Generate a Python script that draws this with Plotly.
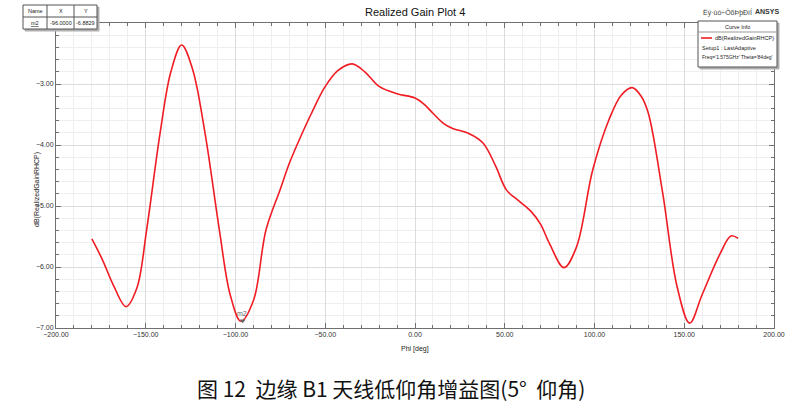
import plotly.graph_objects as go

# ---- data ----
phi = [-180, -174, -168, -161, -155, -149.5, -142, -136, -130, -124, -117, -109,
       -103, -97, -90, -83, -75, -70, -65, -58, -50, -43, -35, -28, -20, -10,
       0, 5, 10, 16, 21, 30, 38, 45, 51, 58, 65, 70, 75, 83, 90, 99, 108, 115,
       121, 126, 130, 138, 146, 153, 160, 170, 176, 180]
gain = [-5.54, -5.89, -6.30, -6.65, -6.35, -5.39, -3.80, -2.80, -2.36, -2.75, -3.80, -5.39,
        -6.45, -6.89, -6.55, -5.39, -4.72, -4.30, -3.95, -3.50, -3.04, -2.78, -2.67, -2.80, -3.04, -3.16,
        -3.23, -3.33, -3.48, -3.65, -3.73, -3.81, -3.97, -4.35, -4.74, -4.92, -5.10, -5.30, -5.62, -6.01, -5.67, -4.41, -3.59, -3.18,
        -3.06, -3.20, -3.48, -4.79, -6.32, -6.92, -6.45, -5.78, -5.49, -5.53]

x_ticks = [-200, -150, -100, -50, 0, 50, 100, 150, 200]
y_ticks = [-7, -6, -5, -4, -3]

marker_name = "m2"
marker_x = -96.0
marker_y = -6.8829

title = "Realized Gain Plot 4"
curve_name = "dB(RealizedGainRHCP)"
caption = "图&nbsp;12&nbsp;&nbsp;边缘&nbsp;B1&nbsp;天线低仰角增益图(5°&nbsp;&nbsp;仰角)"

W, H = 795, 413
L, R, T, B = 56, 774, 23, 328


def px(x):
    return (x - L) / (R - L)


def py(y):
    return (B - y) / (B - T)


FONT = "Liberation Sans, Arial, sans-serif"
NARROW = "Liberation Sans Narrow, Arial Narrow, Liberation Sans, sans-serif"

fig = go.Figure()
fig.add_trace(go.Scatter(
    x=phi, y=gain, mode="lines",
    line=dict(color="#f01c24", width=1.6, shape="spline", smoothing=1.0),
    name=curve_name, showlegend=False, hoverinfo="x+y", cliponaxis=True))

axis_common = dict(
    showline=True, linecolor="#707070", linewidth=1, mirror="allticks",
    ticks="inside", ticklen=5, tickcolor="#707070", tickwidth=1,
    gridcolor="#dcdcdc", gridwidth=1, zeroline=False, automargin=False,
    tickfont=dict(family=FONT, size=7, color="#333"),
)

fig.update_xaxes(
    range=[-200, 200], tickvals=x_ticks, tickformat=".2f",
    minor=dict(dtick=10, showgrid=True, gridcolor="#efefef", ticks="inside",
               ticklen=3, tickcolor="#707070"),
    **axis_common)
fig.update_yaxes(
    range=[-7, -2], tickvals=y_ticks, tickformat=".2f",
    minor=dict(dtick=0.2, showgrid=True, gridcolor="#efefef", ticks="inside",
               ticklen=3, tickcolor="#707070"),
    **axis_common)

ann = []
shapes = []


def text(x, y, s, size=7, color="#222", xanchor="center", family=FONT, **kw):
    ann.append(dict(x=px(x), y=py(y), xref="paper", yref="paper", text=s,
                    showarrow=False, xanchor=xanchor, yanchor="middle",
                    font=dict(family=family, size=size, color=color), **kw))


# Title and header texts
text(415, 12, title, size=11, color="#111")
text(754, 12, "Ëý·ùò÷ÒõÞþÐìÍ", size=7, color="#444", family=NARROW, xanchor="right")
text(781, 11, "<b>ANSYS</b>", size=7, color="#333", xanchor="right")

# axis titles
text(415, 349, "Phi [deg]", size=7, color="#222")
ann.append(dict(x=px(31), y=py(190), xref="paper", yref="paper",
                text="dB(RealizedGainRHCP)", showarrow=False, textangle=-90,
                font=dict(family=FONT, size=7, color="#222")))

# marker label
text(242, 313, marker_name, size=7, color="#666")
fig.add_trace(go.Scatter(x=[marker_x], y=[marker_y], mode="markers",
                         marker=dict(symbol="triangle-down", size=5, color="#666"),
                         showlegend=False, hoverinfo="skip"))

# Marker table
def rect(x0, y0, x1, y1, fill="white", line="#555", width=1):
    shapes.append(dict(type="rect", xref="paper", yref="paper",
                       x0=px(x0), x1=px(x1), y0=py(y1), y1=py(y0),
                       fillcolor=fill, line=dict(color=line, width=width)))


def hline(x0, x1, y, color="#555", width=1):
    shapes.append(dict(type="line", xref="paper", yref="paper",
                       x0=px(x0), x1=px(x1), y0=py(y), y1=py(y),
                       line=dict(color=color, width=width)))


def vline(x, y0, y1, color="#555", width=1):
    shapes.append(dict(type="line", xref="paper", yref="paper",
                       x0=px(x), x1=px(x), y0=py(y0), y1=py(y1),
                       line=dict(color=color, width=width)))


rect(25, 7, 99, 31, fill="#b0b0b0", line="#b0b0b0")
rect(23, 5, 97, 29, fill="white", line="#555")
hline(23, 97, 17)
vline(47, 5, 29)
vline(74, 5, 29)
text(35, 11, "Name", size=5.5, family=NARROW)
text(60.5, 11, "X", size=5.5, family=NARROW)
text(85.5, 11, "Y", size=5.5, family=NARROW)
text(35, 23, "<u>m2</u>", size=5.5, family=NARROW)
text(60.5, 23, f"{marker_x:.4f}", size=5.5, family=NARROW)
text(85.5, 23, f"{marker_y:.4f}", size=5.5, family=NARROW)

# Curve info box
rect(700, 23, 779, 69, fill="#b0b0b0", line="#b0b0b0")
rect(698, 21, 777, 67, fill="white", line="#555")
hline(698, 777, 32, color="#999")
text(737.5, 27, "Curve Info", size=5.5, family=NARROW)
hline(701, 712, 38, color="#f01c24", width=1.6)
text(776, 38, curve_name, size=5.5, xanchor="right", family=NARROW)
text(700, 47.5, "Setup1 : LastAdaptive", size=5.5, xanchor="left", family=NARROW)
text(699.5, 57, "Freq='1.575GHz' Theta='84deg'", size=5, xanchor="left", family=NARROW)

# caption
text(391, 388, caption, size=21, color="#111",
     family="Noto Sans CJK SC, sans-serif")

fig.update_layout(
    width=W, height=H,
    margin=dict(l=L, r=W - R, t=T, b=H - B, pad=0, autoexpand=False),
    paper_bgcolor="white", plot_bgcolor="white",
    annotations=ann, shapes=shapes, showlegend=False,
)

fig.write_html(
    "out.html",
    config={"displayModeBar": False},
    post_script="document.body.style.margin='0px';document.body.style.padding='0px';",
)
